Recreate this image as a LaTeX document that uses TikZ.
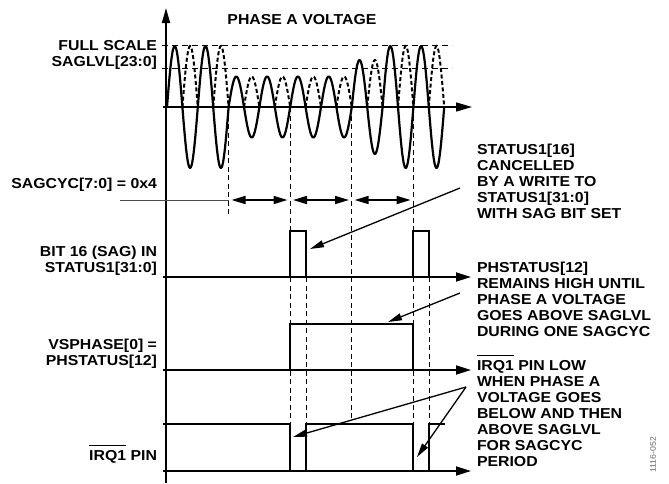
\documentclass[tikz,border=0pt]{standalone}
\usepackage{fontspec}
\setmainfont{Liberation Sans}[FakeStretch=1.1]
\usetikzlibrary{arrows.meta}
\newcommand\ovl[1]{\leavevmode\vbox{\hrule height 1pt \kern 3.5pt \hbox{#1}}}
\begin{document}
\begin{tikzpicture}[x=1pt,y=-1pt,
  txt/.style={font=\fontsize{14.4}{16}\selectfont\bfseries, inner sep=0pt, outer sep=0pt},
  axisline/.style={line width=1.8pt, -{Triangle[length=15pt,width=9pt]}},
  sig/.style={line width=2pt, line join=miter},
  wave/.style={line width=2.2pt, line join=round},
  wavedash/.style={line width=2pt, dash pattern=on 4pt off 2.5pt},
  refdash/.style={line width=0.9pt, dash pattern=on 6pt off 4pt},
  vdash/.style={line width=0.9pt, dash pattern=on 5pt off 3.5pt},
  dblarrow/.style={line width=1.7pt, {Triangle[length=14pt,width=8pt]}-{Triangle[length=14pt,width=8pt]}},
  ann/.style={line width=1.3pt, -{Triangle[length=14pt,width=7pt]}}
]
\useasboundingbox (0,0) rectangle (669,483);

% vertical dashed guide lines
\draw[vdash] (228.6,107) -- (228.6,215);
\draw[vdash] (290.2,107) -- (290.2,424);
\draw[vdash] (351.8,107) -- (351.8,420);
\draw[vdash] (413.4,107) -- (413.4,424);
\draw[vdash] (306,277) -- (306,424);
\draw[vdash] (429,277) -- (429,424);

% reference levels
\draw[refdash] (162,45) -- (452,45);
\draw[refdash] (162,68) -- (452,68);

% axes
\draw[axisline, -{Triangle[length=15pt,width=8pt]}] (166,483) -- (166,8);
\draw[line width=1.4pt, -{Triangle[length=16pt,width=9pt]}] (163,107) -- (472,107);
\draw[axisline] (163,277) -- (471,277);
\draw[axisline] (163,370) -- (471,370);
\draw[axisline] (163,471) -- (471,471);

% waveform
\def\Tp{30.8}
\foreach \A [count=\i from 0] in {61,61,30.5,30.5,30.5,30.5,47,61,61} {
  \pgfmathsetmacro\xa{167+\i*\Tp}
  \pgfmathsetmacro\xm{\xa+\Tp/2}
  \pgfmathsetmacro\xb{\xa+\Tp}
  \draw[wave] plot[domain=\xa:\xb, samples=41, smooth] (\x,{107-\A*sin(360*(\x-\xa)/\Tp)});
  \draw[wavedash] plot[domain=\xm:\xb, samples=21, smooth] (\x,{107+\A*sin(360*(\x-\xa)/\Tp)});
}

% SAGCYC
\draw[line width=1pt, black!70] (120,200) -- (228.6,200);
\draw[dblarrow] (231.5,200) -- (287.5,200);
\draw[dblarrow] (293,200) -- (349,200);
\draw[dblarrow] (354.6,200) -- (410.6,200);

% signals
\draw[sig] (290.2,277) -- (290.2,231) -- (306,231) -- (306,277);
\draw[sig] (413.4,277) -- (413.4,231) -- (429,231) -- (429,277);
\draw[sig] (290.2,370) -- (290.2,324) -- (413.4,324) -- (413.4,370);
\draw[sig] (163,424) -- (290.2,424) -- (290.2,471) -- (306,471) -- (306,424) -- (413.4,424) -- (413.4,471) -- (429,471) -- (429,424) -- (445,424);

% labels (base anchor = last line's baseline)
\node[txt, anchor=base, align=center] (title) at (302,24) {PHASE A VOLTAGE};
\node[txt, anchor=base east, align=right] (fs) at (157,66) {FULL SCALE\\SAGLVL[23:0]};
\node[txt, anchor=base east] (sc) at (157,188) {SAGCYC[7:0] = 0x4};
\node[txt, anchor=base east, align=right] (bit) at (157,272) {BIT 16 (SAG) IN\\STATUS1[31:0]};
\node[txt, anchor=base east, align=right] (vs) at (157,365) {VSPHASE[0] =\\PHSTATUS[12]};
\node[txt, anchor=base east] (irq) at (157,460) {\ovl{IRQ1} PIN};

\node[txt, anchor=base west, align=left] (t1) at (477,218) {STATUS1[16]\\CANCELLED\\BY A WRITE TO\\STATUS1[31:0]\\WITH SAG BIT SET};
\node[txt, anchor=base west, align=left] (t2) at (477,336) {PHSTATUS[12]\\REMAINS HIGH UNTIL\\PHASE A VOLTAGE\\GOES ABOVE SAGLVL\\DURING ONE SAGCYC};
\node[txt, anchor=base west, align=left] (t3) at (477,466) {\ovl{IRQ1} PIN LOW\\WHEN PHASE A\\VOLTAGE GOES\\BELOW AND THEN\\ABOVE SAGLVL\\FOR SAGCYC\\PERIOD};
\node[font=\fontsize{8}{9}\selectfont, text=black!60, rotate=90, inner sep=0pt] (id) at (653,455) {1116-052};

% annotation arrows
\coordinate (a1s) at (460,188); \coordinate (a1e) at (310,249);
\coordinate (a2s) at (460,293); \coordinate (a2e) at (388,322);
\coordinate (a3s) at (466,387); \coordinate (a3e) at (293,437);
\coordinate (a4e) at (417,457);
\draw[ann] (a1s) -- (a1e);
\draw[ann] (a2s) -- (a2e);
\draw[ann] (a3s) -- (a3e);
\draw[ann] (a3s) -- (a4e);
\end{tikzpicture}
\end{document}
